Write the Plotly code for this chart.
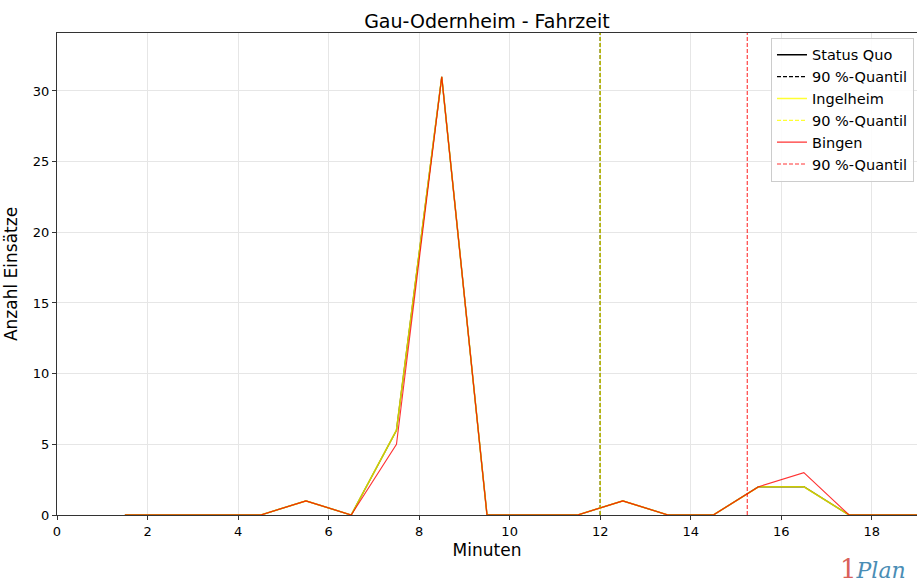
import plotly.graph_objects as go

# Data
minuten = [1.5, 2.5, 3.5, 4.5, 5.5, 6.5, 7.5, 8.5, 9.5, 10.5, 11.5, 12.5, 13.5, 14.5, 15.5, 16.5, 17.5, 18.5, 19.5]
status_quo = [0, 0, 0, 0, 1, 0, 6, 31, 0, 0, 0, 1, 0, 0, 2, 2, 0, 0, 0]
ingelheim = [0, 0, 0, 0, 1, 0, 6, 31, 0, 0, 0, 1, 0, 0, 2, 2, 0, 0, 0]
bingen = [0, 0, 0, 0, 1, 0, 5, 31, 0, 0, 0, 1, 0, 0, 2, 3, 0, 0, 0]
quantil_status_quo = 12
quantil_ingelheim = 12
quantil_bingen = 15.25
y_max = 34.1

font = "DejaVu Sans, Liberation Sans, sans-serif"

# Create the traces
data = [
  go.Scatter(x=minuten, y=status_quo, mode="lines", name="Status Quo",
             line=dict(color="black", width=1.3)),
  go.Scatter(x=[quantil_status_quo, quantil_status_quo], y=[0, y_max], mode="lines",
             name="90 %-Quantil", line=dict(color="black", width=1.3, dash="4px,2px")),
  go.Scatter(x=minuten, y=ingelheim, mode="lines", name="Ingelheim",
             opacity=0.8, line=dict(color="#ffff00", width=1.6)),
  go.Scatter(x=[quantil_ingelheim, quantil_ingelheim], y=[0, y_max], mode="lines",
             name="90 %-Quantil", opacity=0.8, line=dict(color="#ffff00", width=1.3, dash="4px,2px")),
  go.Scatter(x=minuten, y=bingen, mode="lines", name="Bingen",
             opacity=0.8, line=dict(color="#ff0000", width=1.1)),
  go.Scatter(x=[quantil_bingen, quantil_bingen], y=[0, y_max], mode="lines",
             name="90 %-Quantil", opacity=0.8, line=dict(color="#ff0000", width=1.1, dash="4px,2px")),
]

# Create the layout
layout = go.Layout(
  width=917, height=583,
  margin=dict(l=57, r=0, t=33, b=68),
  paper_bgcolor="white", plot_bgcolor="white",
  font=dict(family=font, size=13, color="black"),
  title=dict(text="Gau-Odernheim - Fahrzeit", x=0.531, xanchor="center",
             y=0.964, yanchor="middle", font=dict(size=19)),
  xaxis=dict(range=[0, 19], tickvals=[0, 2, 4, 6, 8, 10, 12, 14, 16, 18],
             showgrid=True, gridcolor="#e6e6e6", gridwidth=1,
             showline=True, linecolor="#333", linewidth=1, mirror=True,
             ticks="outside", ticklen=4, tickcolor="#333", zeroline=False,
             title=dict(text="Minuten", font=dict(size=17), standoff=6)),
  yaxis=dict(range=[0, y_max], tickvals=[0, 5, 10, 15, 20, 25, 30],
             showgrid=True, gridcolor="#e6e6e6", gridwidth=1,
             showline=True, linecolor="#333", linewidth=1, mirror=True,
             ticks="outside", ticklen=4, tickcolor="#333", zeroline=False,
             title=dict(text="Anzahl Einsätze", font=dict(size=17), standoff=10)),
  legend=dict(x=0.9965, y=0.99, xanchor="right", yanchor="top",
              bgcolor="rgba(255,255,255,0.85)", bordercolor="#cccccc", borderwidth=1,
              font=dict(size=14.5), tracegroupgap=0, itemwidth=30),
  showlegend=True,
  annotations=[
    # logo in the bottom right corner
    dict(text="<span style='color:#d9615a;font-size:26px'>1</span><i>Plan</i>",
         xref="paper", yref="paper", x=0.99, y=-0.112,
         xanchor="right", yanchor="middle", showarrow=False,
         font=dict(family="DejaVu Serif, serif", size=22, color="#4a8db5")),
  ],
)

# Build the figure
fig = go.Figure(data=data, layout=layout)

# Save the plot (drop the default page margin so the figure fills the window)
fig.write_html("out.html", config={"displayModeBar": False},
               post_script="document.body.style.margin='0';")
